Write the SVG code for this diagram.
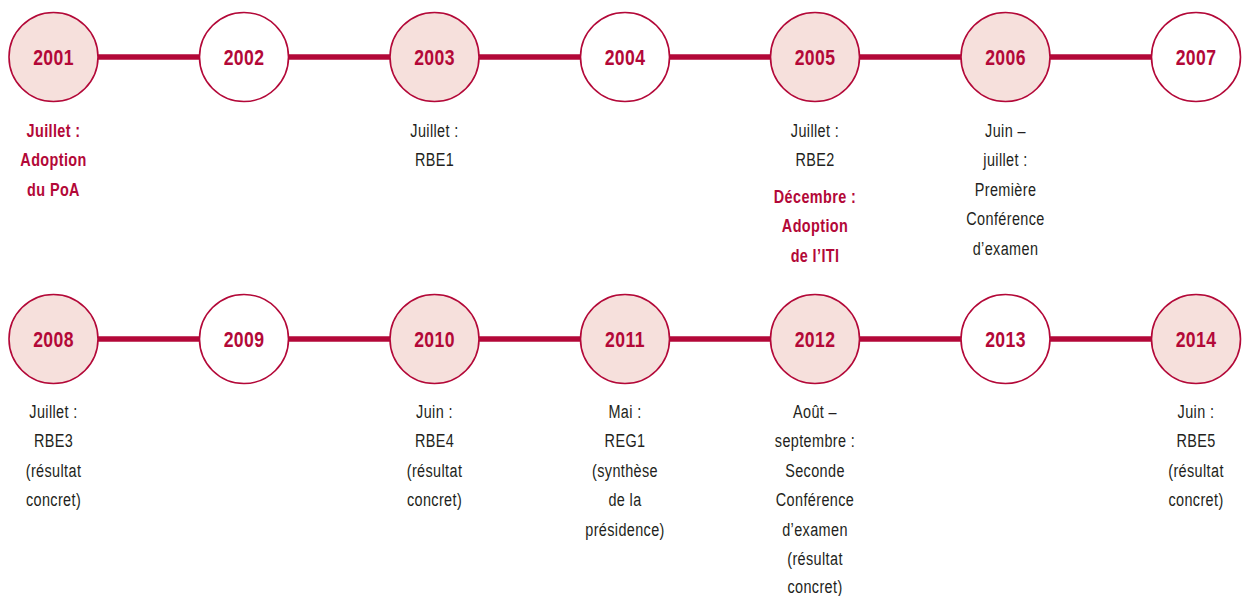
<svg xmlns="http://www.w3.org/2000/svg" width="1244" height="596" viewBox="0 0 1244 596">
<style>
.bg{fill:#ffffff}
.ln{stroke:#B30838;stroke-width:5.5;fill:none}
.cf{fill:#F6E0DC;stroke:#B30838;stroke-width:1.6}
.cw{fill:#ffffff;stroke:#B30838;stroke-width:1.6}
.yr{font-family:"Liberation Sans",Arial,sans-serif;font-weight:bold;font-size:22px;letter-spacing:0.5px;fill:#B30838;text-anchor:middle}
.tx{font-family:"Liberation Sans",Arial,sans-serif;font-size:19px;letter-spacing:0.5px;fill:#231F20;text-anchor:middle}
.tr{font-family:"Liberation Sans",Arial,sans-serif;font-weight:bold;font-size:19px;letter-spacing:0.5px;fill:#B30838;text-anchor:middle}
</style>
<rect class="bg" x="0" y="0" width="1244" height="596"/>
<g id="connectors">
<line class="ln" x1="98" y1="57" x2="1152" y2="57"/>
<line class="ln" x1="98" y1="339" x2="1152" y2="339"/>
</g>
<g id="n2001" transform="translate(53.5,0)"><circle class="cf" cx="0" cy="57" r="44.5"/>
<g transform="scale(0.8,1)"><text class="yr" x="0" y="65">2001</text></g>
<g transform="scale(0.76,1)"><text class="tr" x="0" y="137">Juillet :</text><text class="tr" x="0" y="166.5">Adoption</text><text class="tr" x="0" y="196">du PoA</text></g></g>
<g id="n2002" transform="translate(244,0)"><circle class="cw" cx="0" cy="57" r="44.5"/>
<g transform="scale(0.8,1)"><text class="yr" x="0" y="65">2002</text></g></g>
<g id="n2003" transform="translate(434.5,0)"><circle class="cf" cx="0" cy="57" r="44.5"/>
<g transform="scale(0.8,1)"><text class="yr" x="0" y="65">2003</text></g>
<g transform="scale(0.76,1)"><text class="tx" x="0" y="137">Juillet :</text><text class="tx" x="0" y="166.5">RBE1</text></g></g>
<g id="n2004" transform="translate(625,0)"><circle class="cw" cx="0" cy="57" r="44.5"/>
<g transform="scale(0.8,1)"><text class="yr" x="0" y="65">2004</text></g></g>
<g id="n2005" transform="translate(815,0)"><circle class="cf" cx="0" cy="57" r="44.5"/>
<g transform="scale(0.8,1)"><text class="yr" x="0" y="65">2005</text></g>
<g transform="scale(0.76,1)"><text class="tx" x="0" y="137">Juillet :</text><text class="tx" x="0" y="166.5">RBE2</text>
<text class="tr" x="0" y="203">Décembre :</text><text class="tr" x="0" y="232.5">Adoption</text><text class="tr" x="0" y="262">de l’ITI</text></g></g>
<g id="n2006" transform="translate(1005.5,0)"><circle class="cf" cx="0" cy="57" r="44.5"/>
<g transform="scale(0.8,1)"><text class="yr" x="0" y="65">2006</text></g>
<g transform="scale(0.76,1)"><text class="tx" x="0" y="137">Juin –</text><text class="tx" x="0" y="166.5">juillet :</text><text class="tx" x="0" y="196">Première</text><text class="tx" x="0" y="225.5">Conférence</text><text class="tx" x="0" y="255">d’examen</text></g></g>
<g id="n2007" transform="translate(1196,0)"><circle class="cw" cx="0" cy="57" r="44.5"/>
<g transform="scale(0.8,1)"><text class="yr" x="0" y="65">2007</text></g></g>
<g id="n2008" transform="translate(53.5,0)"><circle class="cf" cx="0" cy="339" r="44.5"/>
<g transform="scale(0.8,1)"><text class="yr" x="0" y="347">2008</text></g>
<g transform="scale(0.76,1)"><text class="tx" x="0" y="418">Juillet :</text><text class="tx" x="0" y="447.5">RBE3</text><text class="tx" x="0" y="477">(résultat</text><text class="tx" x="0" y="506.5">concret)</text></g></g>
<g id="n2009" transform="translate(244,0)"><circle class="cw" cx="0" cy="339" r="44.5"/>
<g transform="scale(0.8,1)"><text class="yr" x="0" y="347">2009</text></g></g>
<g id="n2010" transform="translate(434.5,0)"><circle class="cf" cx="0" cy="339" r="44.5"/>
<g transform="scale(0.8,1)"><text class="yr" x="0" y="347">2010</text></g>
<g transform="scale(0.76,1)"><text class="tx" x="0" y="418">Juin :</text><text class="tx" x="0" y="447.5">RBE4</text><text class="tx" x="0" y="477">(résultat</text><text class="tx" x="0" y="506.5">concret)</text></g></g>
<g id="n2011" transform="translate(625,0)"><circle class="cf" cx="0" cy="339" r="44.5"/>
<g transform="scale(0.8,1)"><text class="yr" x="0" y="347">2011</text></g>
<g transform="scale(0.76,1)"><text class="tx" x="0" y="418">Mai :</text><text class="tx" x="0" y="447.5">REG1</text><text class="tx" x="0" y="477">(synthèse</text><text class="tx" x="0" y="506.5">de la</text><text class="tx" x="0" y="536">présidence)</text></g></g>
<g id="n2012" transform="translate(815,0)"><circle class="cf" cx="0" cy="339" r="44.5"/>
<g transform="scale(0.8,1)"><text class="yr" x="0" y="347">2012</text></g>
<g transform="scale(0.76,1)"><text class="tx" x="0" y="418">Août –</text><text class="tx" x="0" y="447.5">septembre :</text><text class="tx" x="0" y="477">Seconde</text><text class="tx" x="0" y="506.5">Conférence</text><text class="tx" x="0" y="536">d’examen</text><text class="tx" x="0" y="565">(résultat</text><text class="tx" x="0" y="593">concret)</text></g></g>
<g id="n2013" transform="translate(1005.5,0)"><circle class="cw" cx="0" cy="339" r="44.5"/>
<g transform="scale(0.8,1)"><text class="yr" x="0" y="347">2013</text></g></g>
<g id="n2014" transform="translate(1196,0)"><circle class="cf" cx="0" cy="339" r="44.5"/>
<g transform="scale(0.8,1)"><text class="yr" x="0" y="347">2014</text></g>
<g transform="scale(0.76,1)"><text class="tx" x="0" y="418">Juin :</text><text class="tx" x="0" y="447.5">RBE5</text><text class="tx" x="0" y="477">(résultat</text><text class="tx" x="0" y="506.5">concret)</text></g></g>
</svg>
